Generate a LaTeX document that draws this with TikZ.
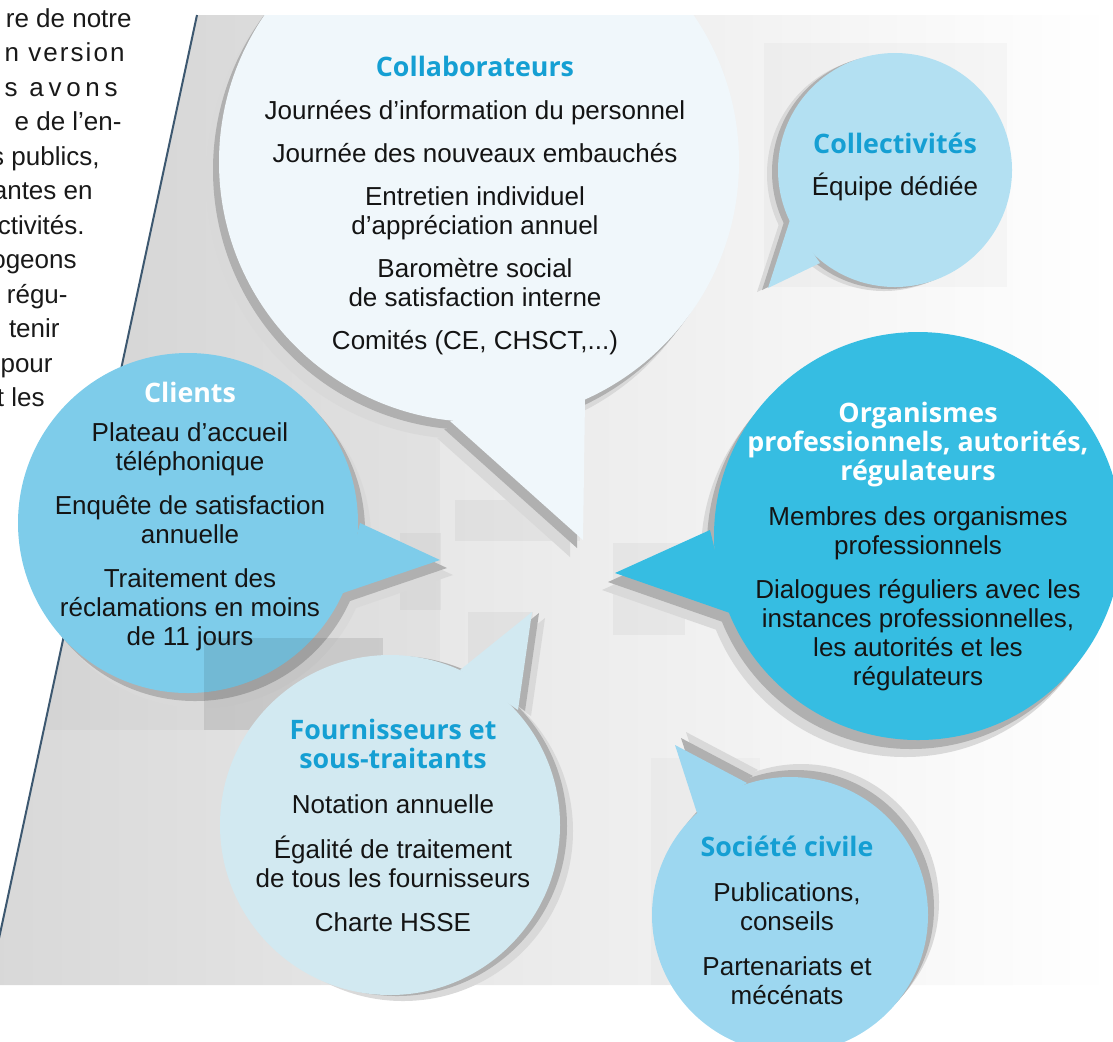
\documentclass[tikz,border=0pt]{standalone}
\usepackage{fontspec}
\setmainfont{Liberation Sans}
\newfontfamily\headfont{Open Sans}
\usetikzlibrary{positioning}

\definecolor{paneldark}{HTML}{D8D8D8}
\definecolor{panelmid}{HTML}{EEEEEE}
\definecolor{paneledge}{HTML}{3D5870}
\definecolor{titleblue}{HTML}{159FD3}
\definecolor{collabfill}{HTML}{F0F7FB}
\definecolor{collecfill}{HTML}{B3E0F2}
\definecolor{clientfill}{HTML}{7ECCEA}
\definecolor{orgfill}{HTML}{36BDE2}
\definecolor{fournfill}{HTML}{D2E9F1}
\definecolor{socfill}{HTML}{9DD7F0}

\tikzset{
  bodytext/.style={align=center, inner sep=0pt, text=black!92,
    font=\fontsize{13}{14.5}\selectfont},
  introtext/.style={anchor=base east, inner sep=0pt, text=black!90,
    font=\fontsize{13}{17}\selectfont},
  shadowdark/.style={fill=gray!62},
  shadowsoft/.style={fill=gray!30},
  tile/.style={fill=black, fill opacity=0.035},
}

% style, centre, radius, base, tip, base
\newcommand{\bubble}[6]{%
  \fill[#1] (#2) circle[radius=#3];
  \fill[#1] (#4) -- (#5) -- (#6) -- cycle;
}
\newcommand{\heading}[2][titleblue]{{\headfont\bfseries\fontsize{13.4}{14.5}\selectfont\color{#1}#2}}

\begin{document}
\begin{tikzpicture}[x=0.5pt, y=-0.5pt]
\useasboundingbox (0,0) rectangle (1113,1041);
\clip (0,0) rectangle (1113,1041);

% grey panel
\coordinate (paneltl) at (197,15);
\coordinate (panelbl) at (-11,985);
\shade[left color=paneldark, middle color=panelmid, right color=white]
  (paneltl) -- (1113,15) -- (1113,985) -- (panelbl) -- cycle;
\begin{scope}
  \clip (paneltl) -- (1113,15) -- (1113,985) -- (panelbl) -- cycle;
  \fill[tile, fill opacity=0.025] (-11,15) rectangle (440,730);
  \fill[tile, fill opacity=0.025] (764,43) rectangle (1007,287);
  \fill[tile] (455,500) rectangle (580,541);
  \fill[tile] (400,533) rectangle (441,610);
  \fill[tile] (613,543) rectangle (685,635);
  \fill[tile] (468,612) rectangle (533,700);
  \fill[tile, fill opacity=0.02] (651,758) rectangle (760,985);
\end{scope}
\draw[paneledge, line width=1pt] (paneltl) -- (panelbl);

% text on the left
\node[introtext] (intro1) at (132,27) {re de notre};
\node[introtext] (intro2) at (125,61.5) {\addfontfeature{LetterSpace=8}n version};
\node[introtext] (intro3) at (118,96) {\addfontfeature{LetterSpace=18}s avons};
\node[introtext] (intro4) at (122,130.5) {e de l’en-};
\node[introtext] (intro5) at (100,165) {s publics,};
\node[introtext] (intro6) at (93,199.5) {antes en};
\node[introtext] (intro7) at (85,234) {ctivités.};
\node[introtext] (intro8) at (77,268.5) {ogeons};
\node[introtext] (intro9) at (68,303) {régu-};
\node[introtext] (intro10) at (60,337.5) {tenir};
\node[introtext] (intro11) at (53,372) {pour};
\node[introtext] (intro12) at (45,406.5) {t les};

\begin{scope}
\clip (-20,15) rectangle (1113,1041);
% shadows
\bubble{shadowsoft, shift={(-13,17)}}{479,162}{260}{450,421}{583,540}{585,399}
\bubble{shadowdark, shift={(-6,8)}}{479,162}{260}{450,421}{583,540}{585,399}
\bubble{shadowsoft, shift={(-11,4)}}{895,170}{117}{790,220}{768,288}{820,263}
\bubble{shadowdark, shift={(-6,2)}}{895,170}{117}{790,220}{768,288}{820,263}
\bubble{shadowsoft, shift={(13,15)}}{188,523}{170}{360,523}{440,560}{343,593}
\bubble{shadowdark, shift={(7,8)}}{188,523}{170}{360,523}{440,560}{343,593}
\bubble{shadowsoft, shift={(-13,17)}}{918,536}{204}{710,530}{615,573}{730,613}
\bubble{shadowdark, shift={(-7,9)}}{918,536}{204}{710,530}{615,573}{730,613}
\bubble{shadowsoft, shift={(13,6)}}{390,825}{170}{460,670}{532,612}{518,710}
\bubble{shadowdark, shift={(7,1)}}{390,825}{170}{460,670}{532,612}{518,710}
\bubble{shadowsoft, shift={(11,-13)}}{790,915}{138}{697,813}{675,745}{747,783}
\bubble{shadowdark, shift={(6,-7)}}{790,915}{138}{697,813}{675,745}{747,783}

% bubbles
\bubble{collabfill}{479,162}{260}{450,421}{583,540}{585,399}
\bubble{collecfill}{895,170}{117}{790,220}{768,288}{820,263}
\bubble{clientfill}{188,523}{170}{360,523}{440,560}{343,593}
\fill[black, fill opacity=0.09] (204,638) rectangle (383,730);
\bubble{orgfill}{918,536}{204}{710,530}{615,573}{730,613}
\bubble{fournfill}{390,825}{170}{460,670}{532,612}{518,710}
\bubble{socfill}{790,915}{138}{697,813}{675,745}{747,783}
\end{scope}

% texts
\node[bodytext] (collab) at (475,205) {\heading{Collaborateurs}\\[7pt]
  Journées d’information du personnel\\[7pt]
  Journée des nouveaux embauchés\\[7pt]
  Entretien individuel\\ d’appréciation annuel\\[7pt]
  Baromètre social\\ de satisfaction interne\\[7pt]
  Comités (CE, CHSCT,...)};
\node[bodytext] (collec) at (895,167) {\heading{Collectivités}\\[6.5pt]
  Équipe dédiée};
\node[bodytext] (clients) at (190,516) {\heading[white]{Clients}\\[5pt]
  Plateau d’accueil\\ téléphonique\\[7.5pt]
  Enquête de satisfaction\\ annuelle\\[7.5pt]
  Traitement des\\ réclamations en moins\\ de 11 jours};
\node[bodytext] (orga) at (918,546) {\heading[white]{Organismes}\\
  \heading[white]{professionnels, autorités,}\\
  \heading[white]{régulateurs}\\[8pt]
  Membres des organismes\\ professionnels\\[7.5pt]
  Dialogues réguliers avec les\\ instances professionnelles,\\
  les autorités et les\\ régulateurs};
\node[bodytext] (fourn) at (393,825) {\heading{Fournisseurs et}\\
  \heading{sous-traitants}\\[8pt]
  Notation annuelle\\[8pt]
  Égalité de traitement\\ de tous les fournisseurs\\[7.5pt]
  Charte HSSE};
\node[bodytext] (societe) at (787,920) {\heading{Société civile}\\[8pt]
  Publications,\\ conseils\\[8pt]
  Partenariats et\\ mécénats};
\end{tikzpicture}
\end{document}
